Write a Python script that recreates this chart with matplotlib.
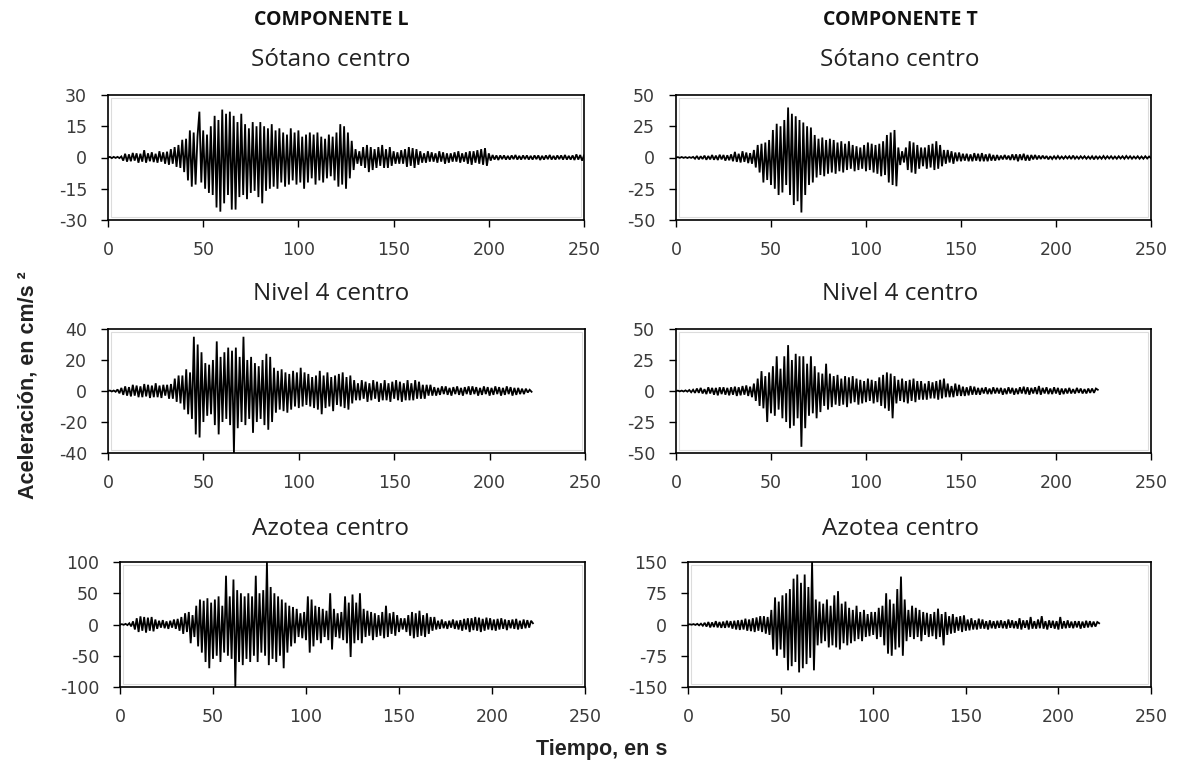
import numpy as np
import matplotlib
matplotlib.use("Agg")
import matplotlib.pyplot as plt
from matplotlib.patches import Rectangle

# ---------------------------------------------------------------------------
# Accelerograms (cm/s^2), one sample per second
# ---------------------------------------------------------------------------
sotano_L = [
    0, 0.3, -0.3, 0.3, -0.2, 0.3, -0.3, 0.5, -1.5, 1.8,
    -2, 1.5, -1.8, 2.2, -1.5, 2, -2.5, 1.8, -2, 3.5,
    -2.5, 2, -1.8, 2.5, -2.2, 1.8, -2.5, 3, -2, 2.5,
    -3, 2.8, -3.5, 4, -3, 5, -4.5, 6, -5, 8.5,
    -7, 9, -11, 13, -14, 12, -13, 10, 22, -12,
    13, -15, 11, -17, 15, -18, 20, -24, 18, -26,
    23, -22, 21, -18, 22, -25, 20, -25, 17, -19,
    21, -18, 16, -20, 14, -17, 17, -16, 15, -19,
    17, -22, 15, -16, 14, -15, 16, -14, 13, -15,
    14, -12, 12, -14, 11, -13, 14, -11, 12, -13,
    13, -12, 10, -15, 11, -12, 12, -10, 11, -13,
    12, -11, 10, -12, 9, -10, 11, -9, 10, -11,
    12, -14, 16, -13, 15, -15, 12, -10, 8, -6,
    4, -3, 3, -4, 5, -5, 6, -7, 5, -6,
    4, -5, 5, -4, 6, -5, 4, -5, 5, -4,
    3, -3, 2.5, -3, 3.5, -3, 4, -4.5, 5, -4,
    4.5, -5, 4, -3.5, 3, -2.5, 2, -2.5, 3, -2,
    2.5, -2, 2, -2.5, 3, -2, 2.5, -3, 2, -2.5,
    2, -2, 2.5, -2, 3, -2.5, 2, -2, 2.5, -3,
    3, -3.5, 3, -2.5, 3.5, -3, 4, -3.5, 4.5, -4,
    2, -1.5, 1.2, -1, 1, -1.2, 1, -0.8, 1, -1,
    0.8, -1, 1, -0.8, 1.2, -1, 0.8, -1, 1, -0.8,
    1, -1, 0.8, -1, 1, -0.8, 1, -1.2, 0.8, -1,
    1, -0.8, 1.2, -1, 0.8, -1, 1, -0.8, 1, -1,
    1.2, -1, 0.8, -1, 1, -1.2, 1.5, -1, 1.2, -1.5, 1,
]

sotano_T = [
    0, 0.3, -0.3, 0.4, -0.3, 0.3, -0.4, 0.3, -0.3, 0.5,
    -1, 1.2, -1.5, 1, -1.2, 1.5, -1.8, 1.2, -1.5, 2,
    -1.8, 1.5, -2, 2.2, -1.5, 2, -2.5, 1.8, -2.2, 2.5,
    -3, 4.5, -3.5, 3, -4, 5, -3.5, 4, -4.5, 3.5,
    -5, 6, -8, 10, -12, 11, -20, 12, -18, 14,
    -22, 22, -25, 27, -30, 25, -28, 30, -22, 40,
    -30, 35, -38, 33, -35, 30, -44, 28, -30, 25,
    -22, 24, -20, 18, -16, 15, -14, 16, -15, 14,
    -13, 15, -12, 14, -13, 12, -11, 13, -12, 11,
    -10, 13, -9, 10, -11, 9, -10, 8, -9, 10,
    -11, 12, -10, 11, -12, 10, -13, 11, -15, 13,
    -14, 18, -20, 20, -22, 22, -23, 8, -6, 5,
    -4, 8, -10, 13, -12, 12, -13, 10, -9, 8,
    -7, 8, -9, 10, -8, 11, -10, 13, -9, 10,
    -7, 6, -5, 6, -4, 5, -5, 4, -3, 4,
    -3, 3, -2.5, 3, -3, 2.5, -3, 3.5, -2.5, 3,
    -3, 3.5, -3, 2.5, -3, 3, -2.5, 2, -2.5, 2,
    -2, 1.5, -1.5, 2, -1.5, 1.5, -2, 2.5, -2, 2.5,
    -3, 2.5, -2, 3, -2.5, 2, -2.5, 2, -1.5, 2,
    -1.5, 1.5, -1.2, 1.5, -1, 1.2, -1.5, 1, -1.2, 1,
    -1, 1.2, -1, 0.8, -1, 1, -0.8, 1, -1.2, 1.5,
    -1, 0.8, -1, 1, -0.8, 1, -1, 0.8, -1, 1,
    -1.5, 1.2, -1, 0.8, -1, 1.2, -1, 1, -0.8, 1,
    -1, 0.8, -1, 1, -0.8, 1, -1, 1.2, -0.8, 1,
    -1, 0.8, -0.8, 1, -1, 0.8, -1, 1, -0.8, 0.8, -0.5,
]

nivel4_L = [
    0, 0.3, -0.3, 0.3, -0.5, 1, -1.5, 2, -2.5, 3,
    -3, 2.5, -3.5, 4, -3, 3.5, -4, 3, -4, 4.5,
    -3.5, 4, -4.5, 3.5, -4, 5, -4, 3.5, -4.5, 4,
    -3, 4, -5, 4.5, -5, 8, -7, 10, -8, 10,
    -12, 14, -15, 12, -18, 35, -28, 30, -30, 25,
    -20, 18, -16, 17, -15, 20, -22, 32, -28, 22,
    -20, 25, -18, 28, -22, 26, -40, 28, -24, 22,
    -20, 35, -22, 20, -18, 22, -27, 18, -20, 16,
    -18, 20, -22, 24, -25, 22, -20, 15, -14, 13,
    -12, 14, -13, 12, -14, 11, -12, 13, -10, 12,
    -11, 15, -10, 12, -9, 11, -10, 9, -11, 10,
    -12, 13, -15, 10, -11, 12, -10, 9, -13, 10,
    -9, 11, -10, 12, -11, 9, -12, 10, -8, 7,
    -6, 5, -6, 7, -5, 6, -7, 5, -6, 7,
    -5, 6, -7, 5, -6, 7, -6, 5, -7, 6,
    -5, 7, -6, 6, -7, 5, -6, 7, -6, 5,
    -6, 7, -5, 6, -5, 4, -5, 4, -3, 4,
    -3, 2.5, -3, 2, -2.5, 3, -2, 3, -2.5, 2,
    -3, 2.5, -2, 3, -2.5, 2, -3, 2.5, -2, 3,
    -2.5, 3, -2, 2.5, -3, 2, -2.5, 3, -2, 2.5,
    -3, 2, -2.5, 3, -2, 2.5, -3, 2, -2.5, 3,
    -2, 2.5, -3, 2, -2.5, 2, -2, 1.5, -2, 1.5,
    -1, 0.8, -0.5,
]

nivel4_T = [
    0, 0.3, -0.3, 0.3, -0.4, 0.5, -0.5, 0.8, -1, 1,
    -1.5, 2, -1.5, 2.5, -2, 1.5, -2.5, 3, -2, 2.5,
    -3, 2.5, -3.5, 3, -2.5, 3, -3, 2.5, -3.5, 3,
    -3, 3.5, -4, 3, -3.5, 4, -3, 4.5, -4, 3.5,
    -5, 6, -8, 10, -12, 16, -14, 12, -25, 15,
    -18, 20, -20, 28, -15, 18, -22, 28, -25, 37,
    -30, 25, -28, 30, -22, 28, -45, 28, -30, 22,
    -20, 28, -18, 20, -22, 15, -17, 14, -12, 22,
    -15, 14, -13, 12, -11, 13, -12, 10, -11, 12,
    -13, 11, -10, 12, -9, 10, -11, 9, -10, 8,
    -9, 10, -8, 9, -10, 8, -9, 11, -12, 13,
    -14, 15, -16, 14, -22, 12, -10, 9, -8, 10,
    -9, 8, -10, 9, -8, 10, -9, 8, -7, 8,
    -7, 6, -7, 8, -6, 7, -6, 8, -7, 9,
    -6, 10, -5, 6, -5, 4, -5, 6, -4, 5,
    -4, 3.5, -4, 3, -3.5, 4, -3, 3.5, -3, 2.5,
    -3, 2.5, -2, 3, -2.5, 2, -2.5, 3, -2, 2.5,
    -2, 2.5, -3, 2, -2.5, 3, -2, 2.5, -3, 2,
    -2.5, 3, -2, 3.5, -2.5, 3, -3, 2.5, -2, 3,
    -2.5, 4, -3, 2.5, -2, 3, -2.5, 2, -2.5, 3,
    -2, 2.5, -3, 2, -2.5, 2, -2, 2.5, -2, 1.5,
    -2, 2.5, -1.5, 2, -2, 1.5, -2, 2, -1.5, 2,
    -1.5, 2, 1,
]

azotea_L = [
    0, 0.5, -0.5, 1, -1, 2, -3, 5, -8, 10,
    -12, 13, -10, 12, -13, 11, -10, 12, -11, 8,
    -7, 6, -5, 7, -6, 5, -7, 6, -5, 8,
    -7, 9, -10, 12, -15, 18, -12, 20, -30, 15,
    -20, 30, -35, 40, -45, 38, -60, 42, -70, 35,
    -55, 40, -50, 45, -60, 30, -45, 78, -50, 45,
    -55, 72, -100, 55, -60, 50, -65, 45, -55, 50,
    -60, 45, -50, 78, -60, 50, -45, 55, -50, 100,
    -65, 60, -55, 50, -60, 45, -50, 40, -70, 35,
    -45, 30, -35, 28, -30, 25, -20, 18, -22, 20,
    -25, 45, -45, 40, -35, 30, -25, 28, -30, 25,
    -20, 22, -25, 50, -40, 25, -20, 18, -22, 20,
    -25, 45, -30, 35, -52, 48, -30, 35, -25, 50,
    -30, 25, -20, 22, -18, 20, -25, 18, -20, 15,
    -18, 20, -22, 30, -20, 18, -15, 20, -18, 15,
    -12, 10, -8, 10, -12, 15, -18, 20, -22, 18,
    -20, 22, -18, 15, -20, 18, -15, 12, -10, 12,
    -8, 6, -7, 8, -6, 5, -7, 6, -5, 8,
    -7, 6, -8, 7, -10, 9, -8, 10, -12, 10,
    -9, 12, -10, 11, -12, 9, -10, 11, -8, 10,
    -9, 8, -10, 9, -8, 10, -7, 8, -9, 7,
    -6, 8, -7, 9, -8, 6, -7, 8, -6, 7,
    -5, 6, 2,
]

azotea_T = [
    0, 0.5, -0.5, 1, -1, 1.5, -2, 2, -3, 4,
    -5, 6, -7, 5, -6, 8, -7, 6, -8, 7,
    -8, 9, -7, 8, -10, 9, -12, 10, -13, 11,
    -12, 14, -15, 12, -16, 15, -18, 17, -15, 20,
    -18, 20, -22, 18, -25, 35, -60, 65, -75, 55,
    -60, 70, -80, 75, -110, 85, -100, 110, -90, 120,
    -115, 100, -105, 120, -95, 90, -80, 150, -110, 60,
    -50, 55, -45, 50, -40, 60, -55, 45, -50, 70,
    -55, 80, -60, 50, -45, 55, -50, 40, -45, 35,
    -40, 45, -35, 30, -40, 35, -30, 25, -28, 30,
    -25, 30, -35, 40, -30, 45, -50, 75, -70, 60,
    -75, 50, -60, 85, -55, 115, -75, 60, -40, 35,
    -30, 45, -35, 40, -30, 35, -40, 30, -25, 28,
    -30, 25, -28, 30, -35, 38, -30, 25, -50, 30,
    -25, 20, -22, 25, -20, 18, -15, 20, -18, 22,
    -15, 12, -14, 15, -12, 10, -12, 14, -10, 12,
    -10, 8, -12, 10, -9, 8, -10, 9, -8, 10,
    -9, 8, -10, 12, -8, 10, -9, 8, -10, 15,
    -12, 10, -8, 10, -12, 18, -10, 8, -10, 12,
    -9, 20, -10, 8, -12, 10, -8, 9, -10, 8,
    -12, 18, -10, 8, -9, 10, -8, 7, -9, 8,
    -7, 8, -10, 7, -8, 9, -7, 8, -6, 7,
    -5, 6, 3,
]

column_titles = ["COMPONENTE L", "COMPONENTE T"]
row_titles = ["Sótano centro", "Nivel 4 centro", "Azotea centro"]
series = [[sotano_L, sotano_T], [nivel4_L, nivel4_T], [azotea_L, azotea_T]]
y_limits = [[30, 50], [40, 50], [100, 150]]
y_ticks = [
    [[-30, -15, 0, 15, 30], [-50, -25, 0, 25, 50]],
    [[-40, -20, 0, 20, 40], [-50, -25, 0, 25, 50]],
    [[-100, -50, 0, 50, 100], [-150, -75, 0, 75, 150]],
]
x_ticks = [0, 50, 100, 150, 200, 250]
sample_step = 1.0  # seconds between samples

# ---------------------------------------------------------------------------
W, H = 1179, 765
fig = plt.figure(figsize=(W / 100, H / 100), dpi=100)
fig.patch.set_facecolor("white")

# plot boxes in pixels: (left, right, top, bottom)
boxes = [
    [(108, 584, 95, 220), (676, 1151, 95, 220)],
    [(108, 585, 329, 453), (676, 1151, 329, 453)],
    [(120, 585, 562, 687), (688, 1151, 562, 687)],
]
title_y = [60, 294, 529]
title_x = [331, 900]

tick_font = dict(family="DejaVu Sans", size=12.5)
tick_color = "#3a3a3a"

for r in range(3):
    for c in range(2):
        l, rr, t, b = boxes[r][c]
        ax = fig.add_axes([l / W, 1 - b / H, (rr - l) / W, (b - t) / H])
        vals = np.asarray(series[r][c], dtype=float)
        tt = np.arange(len(vals)) * sample_step
        ax.plot(tt, vals, color="black", lw=1.3, solid_joinstyle="miter")
        lim = y_limits[r][c]
        ax.set_xlim(0, 250)
        ax.set_ylim(-lim, lim)
        ax.set_xticks(x_ticks)
        ax.set_yticks(y_ticks[r][c])
        ax.set_xticklabels([str(v) for v in x_ticks], fontdict=tick_font, color=tick_color)
        ax.set_yticklabels([str(v) for v in y_ticks[r][c]], fontdict=tick_font, color=tick_color)
        ax.tick_params(direction="out", length=5, width=1.0, pad=10, color="black")
        for sp in ax.spines.values():
            sp.set_linewidth(1.2)
            sp.set_color("black")
        # faint plot-area frame just inside the axes
        wpx, hpx = rr - l, b - t
        dx, dy = 3 / wpx, 3 / hpx
        ax.add_patch(Rectangle((dx, dy), 1 - 2 * dx, 1 - 2 * dy, transform=ax.transAxes,
                               fill=False, ec="#dcdcdc", lw=0.8, zorder=0))
        fig.text(title_x[c] / W, 1 - title_y[r] / H, row_titles[r], ha="center", va="center",
                 family="Open Sans", fontsize=17.5, color="#222222")

for c in range(2):
    fig.text(title_x[c] / W, 1 - 20 / H, column_titles[c], ha="center", va="center",
             family="Open Sans", fontweight="bold", fontsize=14, color="#111111")

fig.text(28 / W, 1 - 385 / H, "Aceleración, en cm/s ²", rotation=90, ha="center", va="center",
         family="Liberation Sans", fontweight="bold", fontsize=15.5, color="#222222")
fig.text(602 / W, 1 - 750 / H, "Tiempo, en s", ha="center", va="center",
         family="Liberation Sans", fontweight="bold", fontsize=15.5, color="#222222")

fig.savefig("out.png", dpi=100, facecolor="white")
